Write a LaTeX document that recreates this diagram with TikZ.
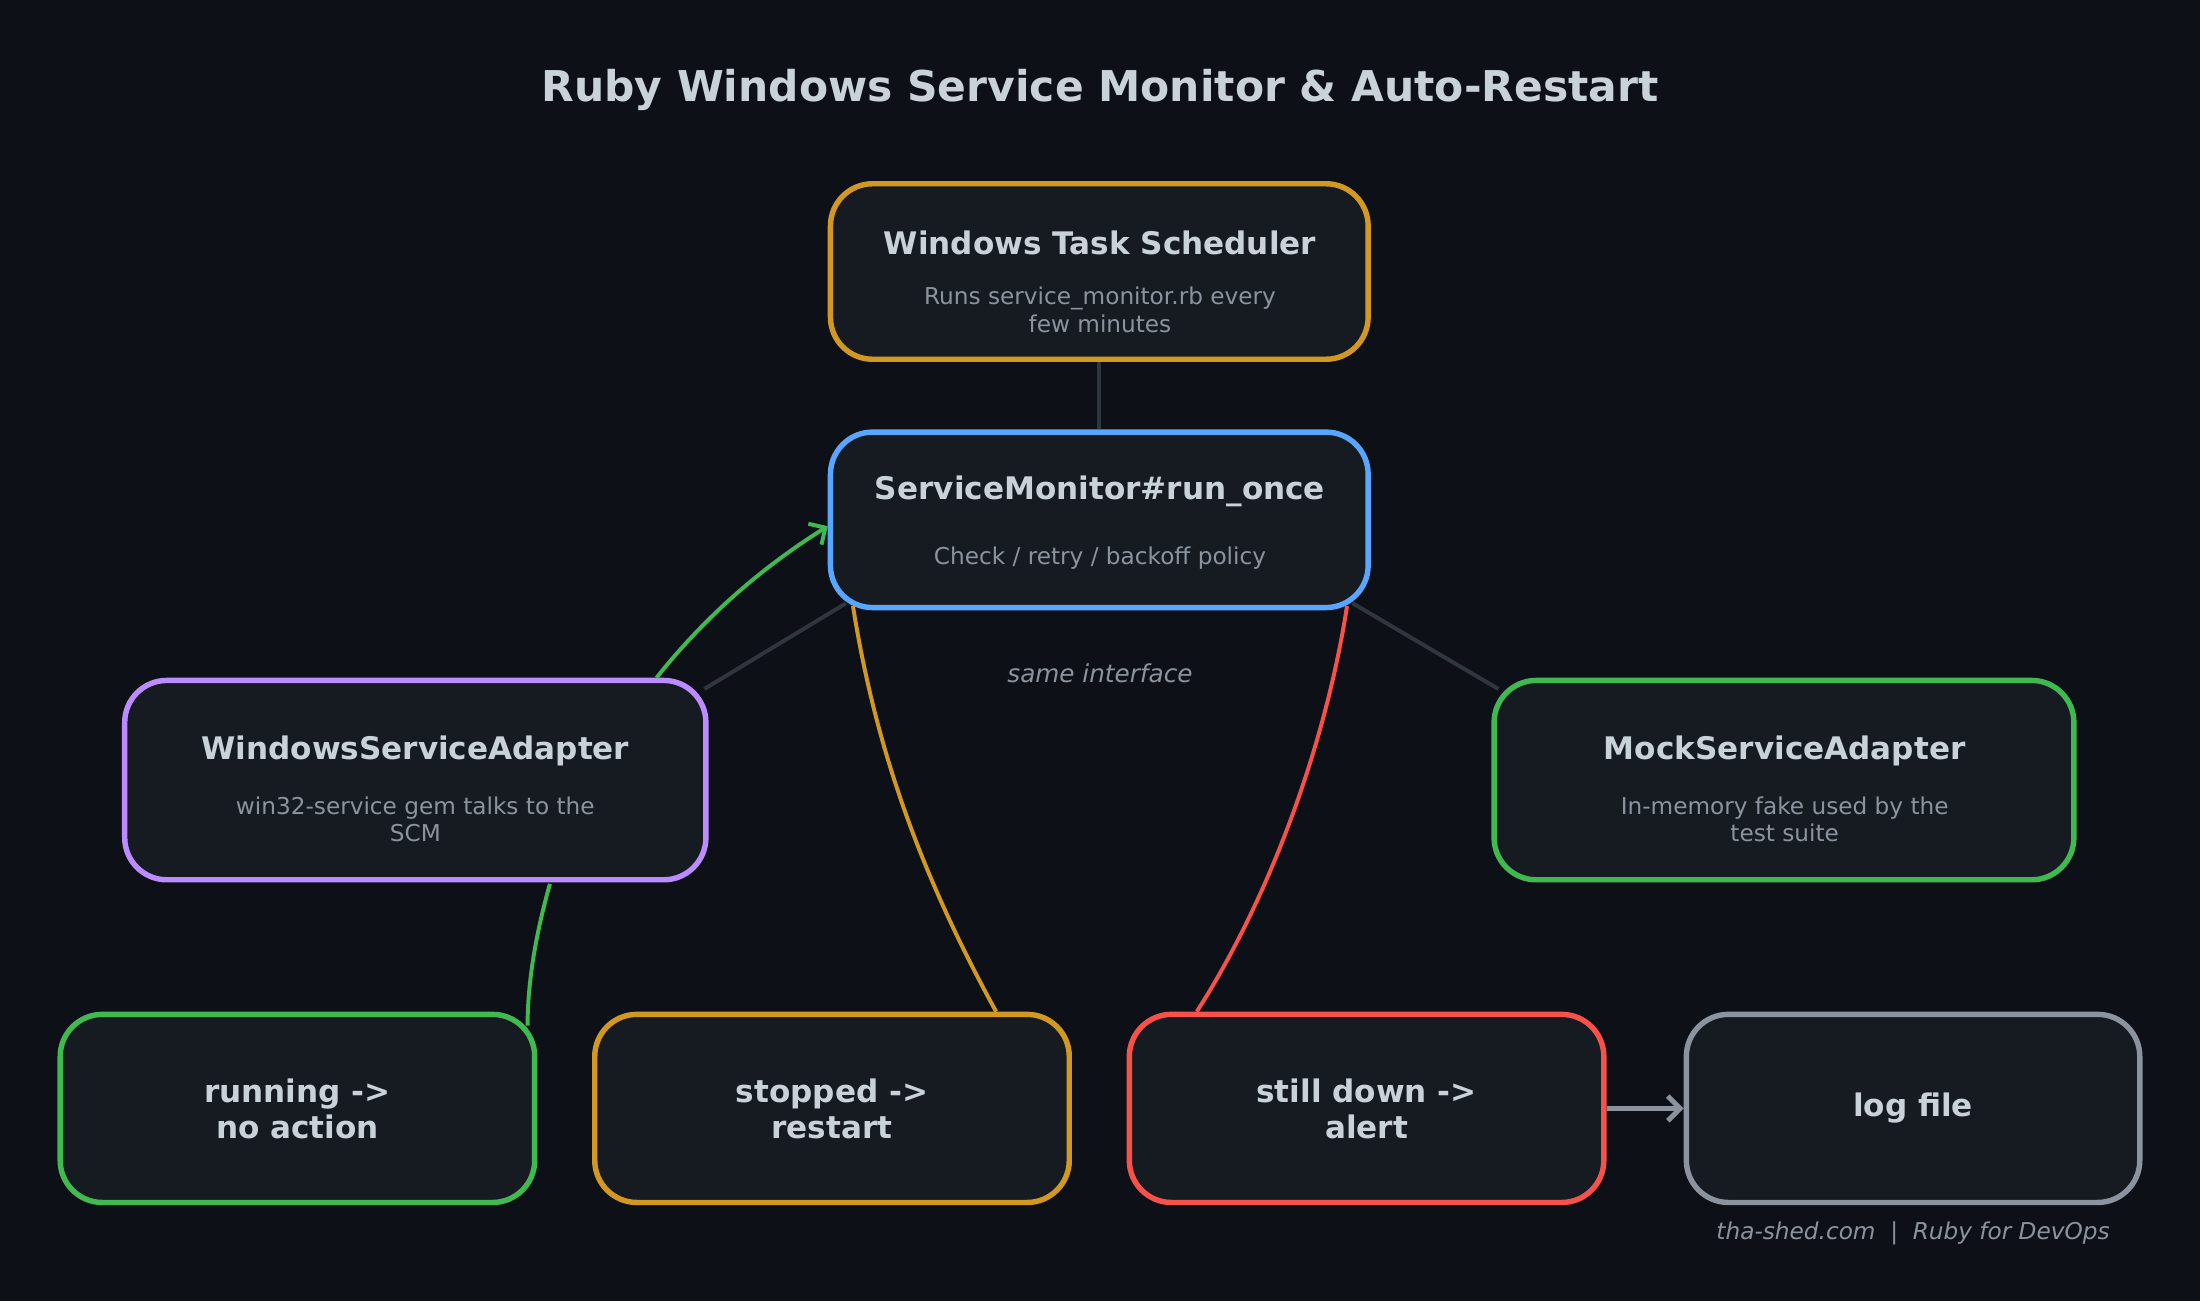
\documentclass[tikz,border=0pt]{standalone}
\usepackage{fontspec}
\setmainfont{DejaVu Sans}
\usetikzlibrary{positioning, calc, arrows.meta}
\definecolor{bgc}{HTML}{0D1117}
\definecolor{boxc}{HTML}{161B22}
\definecolor{txtc}{HTML}{C9D1D9}
\definecolor{subc}{HTML}{8B949E}
\definecolor{edgec}{HTML}{30363D}
\definecolor{orangec}{HTML}{D29922}
\definecolor{bluec}{HTML}{58A6FF}
\definecolor{purplec}{HTML}{BC8CFF}
\definecolor{greenc}{HTML}{3FB950}
\definecolor{redc}{HTML}{F85149}
\tikzset{
  card/.style={draw=#1, fill=boxc, line width=1.1pt, rounded corners=0.3cm, inner sep=0pt},
  cardtitle/.style={text=txtc, font=\fontsize{6.3}{7.3}\selectfont\bfseries, align=center},
  cardsub/.style={text=subc, font=\fontsize{4.7}{5.6}\selectfont, align=center},
  link/.style={draw=edgec, line width=0.8pt},
  flow/.style={draw=#1, line width=0.8pt},
}
\begin{document}
\begin{tikzpicture}[x=0.01cm, y=-0.01cm]
    \fill[bgc] (0,0) rectangle (1568,927);
    \useasboundingbox (0,0) rectangle (1568,927);
    \node[text=txtc, font=\fontsize{8.6}{10}\selectfont\bfseries] (title) at (784,64) {Ruby Windows Service Monitor \& Auto-Restart};
    % boxes
    \node[card=orangec, minimum width=3.83cm, minimum height=1.25cm] (sched) at (783.5,193.5) {};
    \node[card=bluec, minimum width=3.83cm, minimum height=1.25cm] (mon) at (783.5,370.5) {};
    \node[card=purplec, minimum width=4.14cm, minimum height=1.42cm] (wsa) at (296,556) {};
    \node[card=greenc, minimum width=4.13cm, minimum height=1.42cm] (mock) at (1271.5,556) {};
    \node[card=greenc, minimum width=3.38cm, minimum height=1.34cm] (run) at (212,790) {};
    \node[card=orangec, minimum width=3.38cm, minimum height=1.34cm] (stop) at (593,790) {};
    \node[card=redc, minimum width=3.38cm, minimum height=1.34cm] (down) at (974,790) {};
    \node[card=subc, minimum width=3.23cm, minimum height=1.34cm] (log) at (1363.5,790) {};
    % texts
    \node[cardtitle] at (784,173) {Windows Task Scheduler};
    \node[cardsub] at (784,221) {Runs service\_monitor.rb every\\few minutes};
    \node[cardtitle] at (784,350) {ServiceMonitor\#run\_once};
    \node[cardsub] at (784,398) {Check / retry / backoff policy};
    \node[cardtitle] at (296,535) {WindowsServiceAdapter};
    \node[cardsub] at (296,584) {win32-service gem talks to the\\SCM};
    \node[cardtitle] at (1272,535) {MockServiceAdapter};
    \node[cardsub] at (1272,584) {In-memory fake used by the\\test suite};
    \node[cardtitle] at (run) {running ->\\no action};
    \node[cardtitle] at (stop) {stopped ->\\restart};
    \node[cardtitle] at (down) {still down ->\\alert};
    \node[cardtitle] at (log) {log file};
    \node[text=subc, font=\fontsize{5}{6}\selectfont\itshape] (iface) at (784,480) {same interface};
    \node[text=subc, font=\fontsize{4.7}{6}\selectfont\itshape, anchor=east] (foot) at (1516,879) {tha-shed.com \ | \ Ruby for DevOps};
    % connectors
    \draw[link] (sched.south) -- (mon.north);
    \draw[link] ($(mon.south west)+(13,-5)$) -- ($(wsa.north east)+(-3,8)$);
    \draw[link] ($(mon.south east)+(-13,-5)$) -- ($(mock.north west)+(5,8)$);
    \draw[flow=greenc, -{Straight Barb[length=2.5pt,width=5pt]}] ($(wsa.north west)+(381,0)$) .. controls (510,430) and (555,397) .. ($(mon.west)+(0,4.5)$);
    \draw[flow=orangec] ($(mon.south west)+(18,-3)$) .. controls (625,540) and (660,630) .. ($(stop.north west)+(288,0)$);
    \draw[flow=redc] ($(mon.south east)+(-17,-3)$) .. controls (945,530) and (905,640) .. ($(down.north west)+(50,0)$);
    \draw[flow=greenc] ($(wsa.south west)+(305,1)$) .. controls (382,665) and (376,700) .. ($(run.north east)+(-7,10)$);
    \draw[flow=subc, line width=1pt, -{Straight Barb[length=2.5pt,width=5pt]}] (down.east) -- (log.west);
\end{tikzpicture}
\end{document}
